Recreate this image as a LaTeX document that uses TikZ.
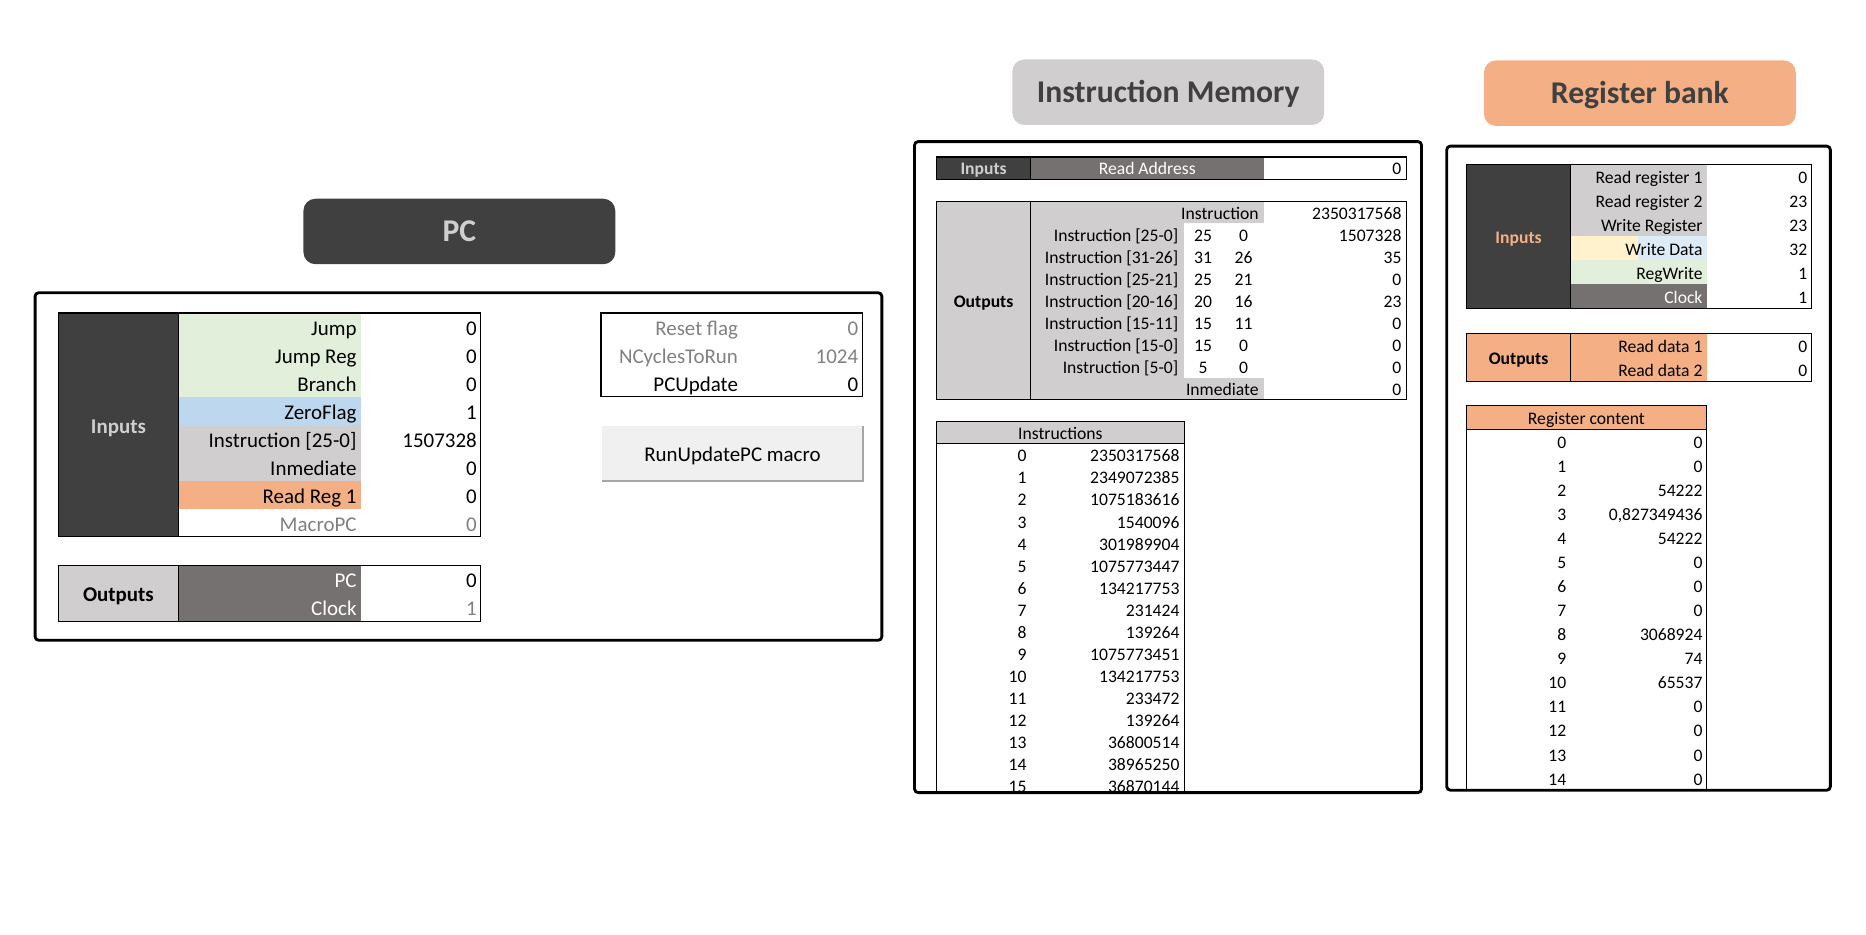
\documentclass[tikz,border=0pt]{standalone}
\usepackage{fontspec}
\setmainfont{Carlito}
\definecolor{darkcell}{HTML}{404040}
\definecolor{midcell}{HTML}{757171}
\definecolor{graycell}{HTML}{D0CECE}
\definecolor{greencell}{HTML}{E2EFDA}
\definecolor{bluecell}{HTML}{BDD7EE}
\definecolor{paleblue}{HTML}{DDEBF7}
\definecolor{orangecell}{HTML}{F4B084}
\definecolor{yellowcell}{HTML}{FFF2CC}
\definecolor{dimtext}{HTML}{808080}
\definecolor{buttonfill}{HTML}{F0F0F0}
\begin{document}
\begin{tikzpicture}[x=0.5pt,y=-0.5pt,
  panel/.style={line width=1.2pt,rounded corners=1.5pt},
  titlebox/.style={rounded corners=5pt,minimum width=131pt,minimum height=27.5pt,inner sep=0pt,
    font=\fontsize{13.3}{16}\selectfont\bfseries,text=darkcell,text height=8.6pt,text depth=0pt},
  pctxt/.style={inner sep=0pt,font=\fontsize{8.8}{10}\selectfont,text height=7.1pt,text depth=0pt},
  pcbold/.style={pctxt,font=\fontsize{8.8}{10}\selectfont\bfseries},
  smtxt/.style={inner sep=0pt,font=\fontsize{7.4}{9}\selectfont,text height=5.8pt,text depth=0pt},
  smbold/.style={smtxt,font=\fontsize{7.4}{9}\selectfont\bfseries},
  grid/.style={line width=0.5pt}]
\useasboundingbox (0,0) rectangle (1568,785);

% PC
\node[titlebox,fill=darkcell,text=graycell] (pctitle) at (386,194.5) {PC};
\fill[darkcell] (49,263) rectangle (150,451);
\foreach \c [count=\i from 0] in {greencell,greencell,greencell,bluecell,graycell,graycell,orangecell,white}
  \fill[\c] (150,263+23.5*\i) rectangle (303,286.5+23.5*\i);
\draw[grid] (49,263) rectangle (404,451) (150,263) -- (150,451);
\node[pcbold,text=graycell] (pcin) at (99.5,357) {Inputs};
\foreach \n/\v/\t [count=\i from 0] in {Jump/0/black,Jump Reg/0/black,Branch/0/black,ZeroFlag/1/black,
    Instruction [25-0]/1507328/black,Inmediate/0/black,Read Reg 1/0/black,MacroPC/0/dimtext} {
  \node[pctxt,anchor=east,text=\t] (pcname\i) at (300,274.75+23.5*\i) {\n};
  \node[pctxt,anchor=east,text=\t] (pcval\i) at (401,274.75+23.5*\i) {\v};
}
\fill[graycell] (49,475) rectangle (150,522);
\fill[midcell] (150,475) rectangle (303,522);
\draw[grid] (49,475) rectangle (404,522) (150,475) -- (150,522);
\node[pcbold] (pcout) at (99.5,498.5) {Outputs};
\foreach \n/\v/\t [count=\i from 0] in {PC/0/black,Clock/1/dimtext} {
  \node[pctxt,anchor=east,text=white] (pconame\i) at (300,486.75+23.5*\i) {\n};
  \node[pctxt,anchor=east,text=\t] (pcoval\i) at (401,486.75+23.5*\i) {\v};
}
\draw[grid] (505,263) rectangle (725,333.5);
\foreach \n/\v/\t [count=\i from 0] in {Reset flag/0/dimtext,NCyclesToRun/1024/dimtext,PCUpdate/0/black} {
  \node[pctxt,anchor=east,text=\t] (pcflag\i) at (620.5,274.75+23.5*\i) {\n};
  \node[pctxt,anchor=east,text=\t] (pcflagv\i) at (721.5,274.75+23.5*\i) {\v};
}
\node[pctxt,fill=buttonfill,minimum width=109.5pt,minimum height=23pt] (runbtn) at (615.5,381) {RunUpdatePC macro};
\draw[line width=1pt,black!35] (runbtn.south west) -- (runbtn.south east) -- (runbtn.north east);
\draw[panel] (29.5,246) rectangle (741,538);

% Instruction memory
\node[titlebox,fill=graycell] (imtitle) at (981.7,77.5) {Instruction Memory};
\fill[darkcell] (787,132) rectangle (866,150.5);
\fill[midcell] (866,132) rectangle (1062,150.5);
\draw[grid] (787,132) rectangle (1182,150.5) (866,132) -- (866,150.5);
\node[smbold,text=graycell] (imin) at (826.5,141.25) {Inputs};
\node[smtxt,text=white] (imaddr) at (964,141.25) {Read Address};
\node[smtxt,anchor=east] (imaddrv) at (1178,141.25) {0};
\fill[graycell] (787,169) rectangle (1062,336);
\fill[white] (995,187.5) rectangle (1062,317.5);
\draw[grid] (787,169) rectangle (1182,336) (866,169) -- (866,336);
\node[smbold] (imout) at (826.5,252.5) {Outputs};
\node[smtxt,anchor=east] (imhead) at (1058,178.25) {Instruction};
\node[smtxt,anchor=east] (imheadv) at (1178,178.25) {2350317568};
\foreach \n/\a/\b/\v [count=\i from 1] in {Instruction [25-0]/25/0/1507328,Instruction [31-26]/31/26/35,
    Instruction [25-21]/25/21/0,Instruction [20-16]/20/16/23,Instruction [15-11]/15/11/0,
    Instruction [15-0]/15/0/0,Instruction [5-0]/5/0/0} {
  \node[smtxt,anchor=east] (imfield\i) at (990.5,178.25+18.5*\i) {\n};
  \node[smtxt] (imhi\i) at (1011,178.25+18.5*\i) {\a};
  \node[smtxt] (imlo\i) at (1045,178.25+18.5*\i) {\b};
  \node[smtxt,anchor=east] (imfieldv\i) at (1178,178.25+18.5*\i) {\v};
}
\node[smtxt,anchor=east] (imimm) at (1058,326.75) {Inmediate};
\node[smtxt,anchor=east] (imimmv) at (1178,326.75) {0};
\fill[graycell] (787,354) rectangle (995,373);
\draw[grid] (787,354) rectangle (995,373) (787,373) -- (787,666) (995,373) -- (995,666);
\node[smtxt] (imlist) at (891,363.5) {Instructions};
\begin{scope}
  \clip (770,119) rectangle (1193,665);
  \foreach \v [count=\i from 0] in {2350317568,2349072385,1075183616,1540096,301989904,1075773447,
      134217753,231424,139264,1075773451,134217753,233472,139264,36800514,38965250,36870144} {
    \node[smtxt,anchor=east] (imaddr\i) at (863,382.3+18.53*\i) {\i};
    \node[smtxt,anchor=east] (imword\i) at (991.5,382.3+18.53*\i) {\v};
  }
\end{scope}
\draw[panel] (768.5,119) rectangle (1194.5,666);

% Register bank
\node[titlebox,fill=orangecell] (rbtitle) at (1378,78.3) {Register bank};
\fill[darkcell] (1232,138) rectangle (1320,259.2);
\foreach \c [count=\i from 0] in {graycell,graycell,graycell,paleblue,greencell,midcell}
  \fill[\c] (1320,138+20.2*\i) rectangle (1434,158.2+20.2*\i);
\fill[yellowcell] (1320,198.6) rectangle (1376.5,218.8);
\draw[grid] (1232,138) rectangle (1522,259.2) (1320,138) -- (1320,259.2);
\node[smbold,text=orangecell] (rbin) at (1276,198.6) {Inputs};
\foreach \n/\v/\t [count=\i from 0] in {Read register 1/0/black,Read register 2/23/black,
    Write Register/23/black,Write Data/32/black,RegWrite/1/black,Clock/1/white} {
  \node[smtxt,anchor=east,text=\t] (rbname\i) at (1431,148.1+20.2*\i) {\n};
  \node[smtxt,anchor=east] (rbval\i) at (1519,148.1+20.2*\i) {\v};
}
\fill[orangecell] (1232,280) rectangle (1434,320.4);
\draw[grid] (1232,280) rectangle (1522,320.4) (1320,280) -- (1320,320.4);
\node[smbold] (rbout) at (1276,300.2) {Outputs};
\foreach \n [count=\i from 1] in {Read data 1,Read data 2} {
  \node[smtxt,anchor=east] (rbdata\i) at (1431,269.9+20.2*\i) {\n};
  \node[smtxt,anchor=east] (rbdatav\i) at (1519,269.9+20.2*\i) {0};
}
\fill[orangecell] (1232,340.8) rectangle (1434,361);
\draw[grid] (1232,340.8) rectangle (1434,361) (1232,361) -- (1232,664) (1434,361) -- (1434,664);
\node[smtxt] (rblist) at (1333,350.9) {Register content};
\foreach \v [count=\i from 0] in {0,0,54222,{0,827349436},54222,0,0,0,3068924,74,65537,0,0,0,0} {
  \node[smtxt,anchor=east] (rbreg\i) at (1316.5,371.1+20.2*\i) {\i};
  \node[smtxt,anchor=east] (rbregv\i) at (1431,371.1+20.2*\i) {\v};
}
\draw[panel] (1215.7,122.8) rectangle (1538,664);
\end{tikzpicture}
\end{document}
